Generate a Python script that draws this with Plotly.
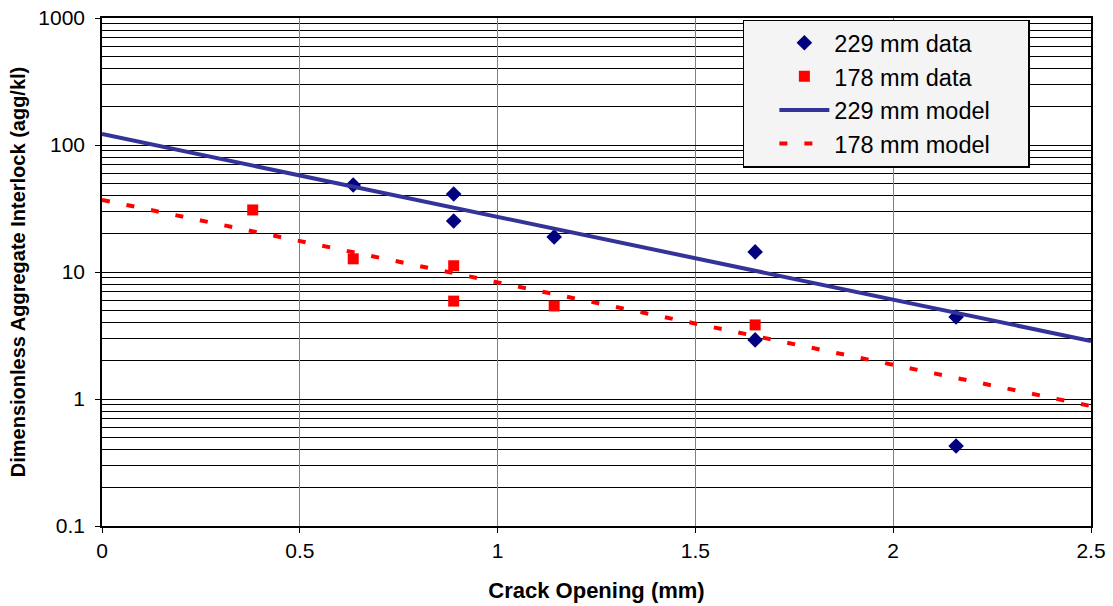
import plotly.graph_objects as go

# Data
x229 = [0.635, 0.889, 0.889, 1.143, 1.651, 1.651, 2.159, 2.159]
y229 = [48.4, 41.1, 25.2, 18.9, 14.4, 2.92, 4.42, 0.427]

x178 = [0.381, 0.635, 0.889, 0.889, 1.143, 1.651]
y178 = [30.8, 12.7, 11.2, 5.9, 5.4, 3.83]

# model lines (straight on log axis: endpoints)
xm = [0.0, 2.5]
y229_model = [122.0, 2.86]
y178_model = [37.0, 0.88]

x_ticks = [0, 0.5, 1, 1.5, 2, 2.5]
x_tick_labels = ["0", "0.5", "1", "1.5", "2", "2.5"]
y_ticks = [0.1, 1, 10, 100, 1000]
y_tick_labels = ["0.1", "1", "10", "100", "1000"]

FONT = "Liberation Sans, Arial, sans-serif"
PAD = "&nbsp;" * 5

fig = go.Figure()
fig.add_trace(go.Scatter(x=x229, y=y229, mode="markers", name="229 mm data" + PAD,
                         legendgroup="a",
                         marker=dict(symbol="diamond", size=12, color="#000080")))
fig.add_trace(go.Scatter(x=x178, y=y178, mode="markers", name="178 mm data" + PAD,
                         legendgroup="b",
                         marker=dict(symbol="square", size=11, color="#FF0000")))
fig.add_trace(go.Scatter(x=xm, y=y229_model, mode="lines", name="229 mm model" + PAD,
                         legendgroup="c",
                         line=dict(color="#333399", width=4)))
fig.add_trace(go.Scatter(x=xm, y=y178_model, mode="lines", name="178 mm model" + PAD,
                         legendgroup="d",
                         line=dict(color="#FF0000", width=4, dash="8px,17px")))

minor_vals = []
for d in [0.1, 1, 10, 100]:
    for k in range(2, 10):
        minor_vals.append(d * k)

fig.update_layout(
    width=1113, height=606,
    margin=dict(l=102, r=22, t=18, b=80),
    paper_bgcolor="white", plot_bgcolor="white",
    font=dict(family=FONT, size=21, color="black"),
    showlegend=True,
    legend=dict(x=0.648, y=0.997, xanchor="left", yanchor="top",
                bgcolor="#F4F4F4", bordercolor="black", borderwidth=1.5,
                font=dict(family=FONT, size=23.5, color="black"),
                itemwidth=50, indentation=30,
                traceorder="grouped", tracegroupgap=0),
    xaxis=dict(range=[0, 2.5], tickvals=x_ticks, ticktext=x_tick_labels,
               tickfont=dict(family=FONT, size=21),
               showgrid=True, gridcolor="#808080", gridwidth=1,
               showline=True, linecolor="black", linewidth=1.5, mirror=True,
               ticks="outside", ticklen=5, tickcolor="black",
               ticklabeloverflow="allow",
               zeroline=False, automargin=False,
               title=dict(text="<b>Crack Opening (mm)</b>",
                          font=dict(family=FONT, size=22), standoff=22)),
    yaxis=dict(type="log", range=[-1, 3], tickvals=y_ticks, ticktext=y_tick_labels,
               tickfont=dict(family=FONT, size=21),
               showgrid=True, gridcolor="black", gridwidth=1,
               showline=True, linecolor="black", linewidth=1.5, mirror=True,
               ticks="outside", ticklen=5, tickcolor="black",
               ticklabelstandoff=6, ticklabeloverflow="allow",
               minor=dict(tickvals=minor_vals, showgrid=True, gridcolor="black",
                          gridwidth=1, ticks=""),
               zeroline=False, automargin=False,
               title=dict(text="<b>Dimensionless Aggregate Interlock (agg/kl)</b>",
                          font=dict(family=FONT, size=20), standoff=7)),
)

fig.write_html("out.html",
               config={"displayModeBar": False},
               post_script="document.body.style.margin='0';document.body.style.overflow='hidden';")
